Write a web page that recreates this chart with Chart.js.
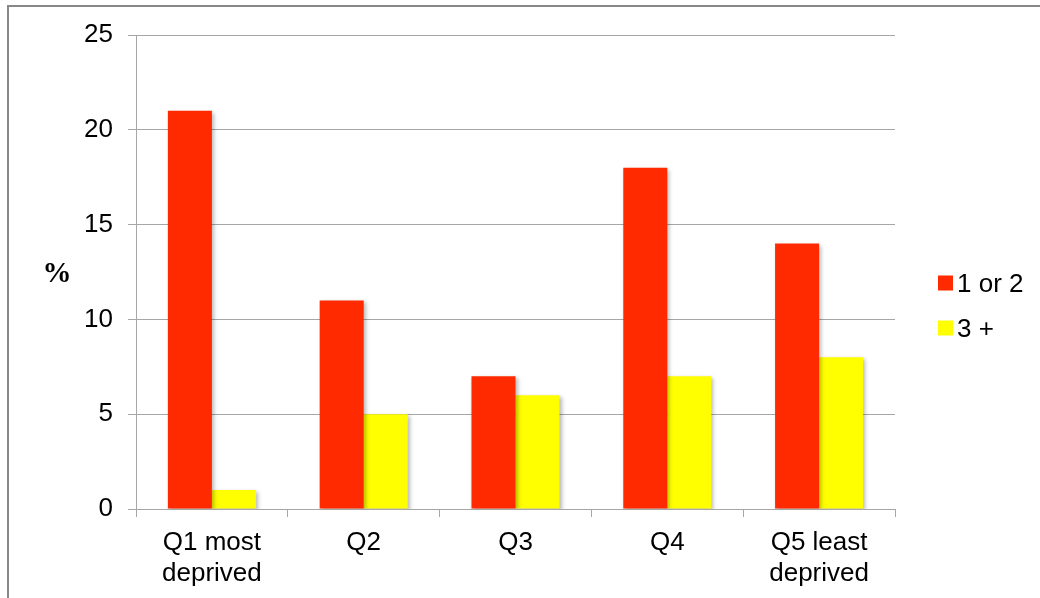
<!DOCTYPE html>
<html>
<head>
<meta charset="utf-8">
<script src="https://cdn.jsdelivr.net/npm/chart.js@4/dist/chart.umd.min.js"></script>
<style>
  html, body { margin: 0; padding: 0; background: #fff; }
  #wrap { position: relative; width: 1040px; height: 598px; }
  #frame { position: absolute; left: 7px; top: 5px; width: 1100px; height: 700px;
           border-left: 2px solid #888; border-top: 2px solid #888; pointer-events: none; }
  canvas { position: absolute; left: 0; top: 0; }
</style>
</head>
<body>
<div id="wrap">
  <canvas id="c" width="1040" height="598"></canvas>
  <div id="frame"></div>
</div>
<script>
const categories = [["Q1 most", "deprived"], "Q2", "Q3", "Q4", ["Q5 least", "deprived"]];
const seriesNames = ["1 or 2", "3 +"];
const series12 = [21, 11, 7, 18, 14];
const series3plus = [1, 5, 6, 7, 8];
const seriesColors = ["#ff2a00", "#ffff00"];
const yTicks = [0, 5, 10, 15, 20, 25];
const yTitle = "%";

const FONT = "'Liberation Sans', Arial, sans-serif";
const GRID = "#a6a6a6";

const shadowPlugin = {
  id: "barShadow",
  beforeDatasetsDraw(chart) {
    const ctx = chart.ctx;
    ctx.save();
    ctx.shadowColor = "rgba(0,0,0,0.28)";
    ctx.shadowBlur = 4;
    ctx.shadowOffsetX = 2;
    ctx.shadowOffsetY = 2;
  },
  afterDatasetsDraw(chart) { chart.ctx.restore(); }
};

const extrasPlugin = {
  id: "extras",
  afterDraw(chart) {
    const ctx = chart.ctx;
    ctx.save();
    // y-axis title, horizontal
    ctx.fillStyle = "#000";
    ctx.font = "bold 29px 'Liberation Serif', serif";
    ctx.textAlign = "center";
    ctx.textBaseline = "middle";
    ctx.fillText(yTitle, 57, 275);
    // legend
    ctx.font = "26px " + FONT;
    ctx.textAlign = "left";
    chart.data.datasets.forEach((ds, i) => {
      const cy = 283 + i * 45;
      ctx.fillStyle = ds.backgroundColor;
      ctx.fillRect(938, cy - 7.5, 15, 15);
      ctx.fillStyle = "#000";
      ctx.fillText(ds.label, 957, cy + 2);
    });
    ctx.restore();
  }
};

new Chart(document.getElementById("c"), {
  type: "bar",
  data: {
    labels: categories,
    datasets: [
      { label: seriesNames[0], data: series12, backgroundColor: seriesColors[0] },
      { label: seriesNames[1], data: series3plus, backgroundColor: seriesColors[1] }
    ]
  },
  options: {
    responsive: false,
    animation: false,
    devicePixelRatio: 1,
    layout: { padding: { left: 0, right: 145, top: 35, bottom: 0 } },
    datasets: { bar: { categoryPercentage: 0.58, barPercentage: 1.0 } },
    plugins: { legend: { display: false }, tooltip: { enabled: false } },
    scales: {
      x: {
        grid: { display: true, drawOnChartArea: false, drawTicks: true, tickLength: 8, color: GRID, offset: true },
        border: { color: GRID, width: 1 },
        ticks: { color: "#000", font: { family: FONT, size: 26, lineHeight: 1.2 }, padding: 10, maxRotation: 0, autoSkip: false },
        afterFit(scale) { scale.height = 89; }
      },
      y: {
        min: 0, max: 25,
        afterBuildTicks(scale) { scale.ticks = yTicks.map(v => ({ value: v })); },
        grid: { color: GRID, tickLength: 8, lineWidth: 1 },
        border: { color: GRID, width: 1 },
        ticks: { color: "#000", font: { family: FONT, size: 26 }, padding: 15 },
        afterFit(scale) { scale.width = 136; }
      }
    }
  },
  plugins: [shadowPlugin, extrasPlugin]
});
</script>
</body>
</html>
